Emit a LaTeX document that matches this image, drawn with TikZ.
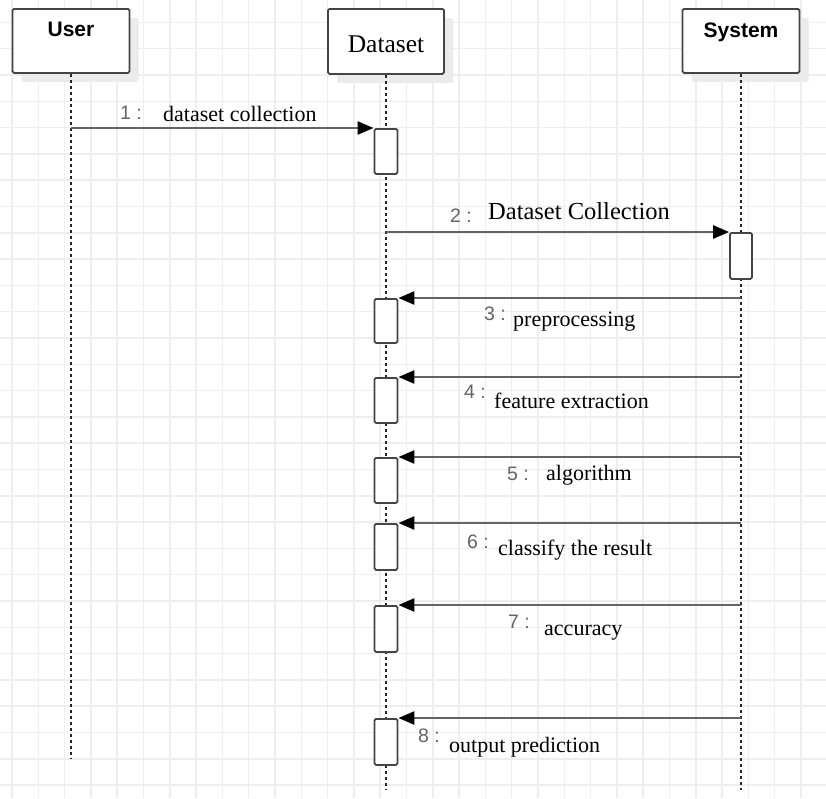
\documentclass[tikz,border=0pt]{standalone}
\usepackage{fontspec}
\setmainfont{Liberation Serif}
\newfontfamily\headfont{Liberation Sans}
\usepackage{tikz}
\usetikzlibrary{arrows.meta, positioning, calc, shadows}
\definecolor{gridline}{RGB}{238,238,238}
\definecolor{edge}{RGB}{68,68,68}
\definecolor{msgline}{RGB}{100,100,100}
\definecolor{numtext}{RGB}{100,100,100}

\begin{document}
\begin{tikzpicture}[x=1pt, y=-1pt,
    actor/.style={rectangle, rounded corners=1.5pt, draw=edge, line width=1.8pt, fill=white, inner sep=0pt, minimum width=117pt, anchor=north, drop shadow={shadow xshift=9pt, shadow yshift=-9pt, fill=black!8, opacity=1}},
    headsans/.style={font=\headfont\bfseries\fontsize{21}{21}\selectfont},
    lifeline/.style={draw=black!85, line width=2.2pt, dash pattern=on 3.5pt off 2.5pt},
    act/.style={rectangle, rounded corners=1.5pt, draw=edge, line width=1.8pt, fill=white, inner sep=0pt, minimum width=23pt, minimum height=45pt, anchor=north},
    msg/.style={draw=msgline, line width=2.6pt, -{Triangle[length=16pt, width=13pt, color=black]}},
    num/.style={font=\headfont\fontsize{19.5}{19.5}\selectfont, text=numtext, anchor=base west, inner sep=0pt},
    txt/.style={font=\fontsize{22}{22}\selectfont, anchor=base west, inner sep=0pt}
]
    \useasboundingbox (0,0) rectangle (826,798);
    \fill[white] (0,0) rectangle (826,798);

    % background grid
    \foreach \gx in {0,...,31}
        \draw[gridline, line width=1.5pt] ({12+26.3*\gx},0) -- ({12+26.3*\gx},798);
    \foreach \gy in {0,...,29}
        \draw[gridline, line width=1.5pt] (0,{22.4+26.3*\gy}) -- (826,{22.4+26.3*\gy});

    % actors
    \node[actor, headsans, text height=28pt, text depth=36pt] (user) at (71,8) {User};
    \node[actor, font=\fontsize{25.5}{25.5}\selectfont, minimum width=116pt, text height=44pt, text depth=21pt] (dataset) at (386,8) {Dataset};
    \node[actor, headsans, text height=29pt, text depth=35pt] (system) at (741,8) {System};

    % lifelines
    \coordinate (userend) at (71,758);
    \coordinate (datasetend) at (386,790);
    \coordinate (systemend) at (741,790);
    \draw[lifeline] (user) -- (userend);
    \draw[lifeline] (dataset) -- (datasetend);
    \draw[lifeline] (system) -- (systemend);

    % activations
    \node[act] (act1) at (386,128) {};
    \node[act, minimum width=22pt, minimum height=46pt] (act2) at (741,232) {};
    \node[act, minimum height=44pt] (act3) at (386,298) {};
    \node[act] (act4) at (386,377) {};
    \node[act] (act5) at (386,457) {};
    \node[act, minimum height=46pt] (act6) at (386,523) {};
    \node[act, minimum height=46pt] (act7) at (386,605) {};
    \node[act, minimum height=46pt] (act8) at (386,718) {};

    % messages
    \draw[msg] (user |- act1.north west) -- (act1.north west);
    \draw[msg] (dataset |- act2.north west) -- (act2.north west);
    \draw[msg] (system |- act3.north east) -- (act3.north east);
    \draw[msg] (system |- act4.north east) -- (act4.north east);
    \draw[msg] (system |- act5.north east) -- (act5.north east);
    \draw[msg] (system |- act6.north east) -- (act6.north east);
    \draw[msg] (system |- act7.north east) -- (act7.north east);
    \draw[msg] (system |- act8.north east) -- (act8.north east);

    % message labels
    \node[num] (n1) at (120,119) {1 :};
    \node[txt] (m1) at (163,121) {dataset collection};
    \node[num] (n2) at (450,222) {2 :};
    \node[txt, font=\fontsize{24.5}{24.5}\selectfont] (m2) at (488,219) {Dataset Collection};
    \node[num] (n3) at (484,320) {3 :};
    \node[txt] (m3) at (513,326) {preprocessing};
    \node[num] (n4) at (464,398) {4 :};
    \node[txt] (m4) at (494,408) {feature extraction};
    \node[num] (n5) at (507,480) {5 :};
    \node[txt] (m5) at (546,480) {algorithm};
    \node[num] (n6) at (467,548) {6 :};
    \node[txt] (m6) at (498,555) {classify the result};
    \node[num] (n7) at (508,628) {7 :};
    \node[txt] (m7) at (544,635) {accuracy};
    \node[num] (n8) at (418,742) {8 :};
    \node[txt] (m8) at (449,752) {output prediction};
\end{tikzpicture}
\end{document}
